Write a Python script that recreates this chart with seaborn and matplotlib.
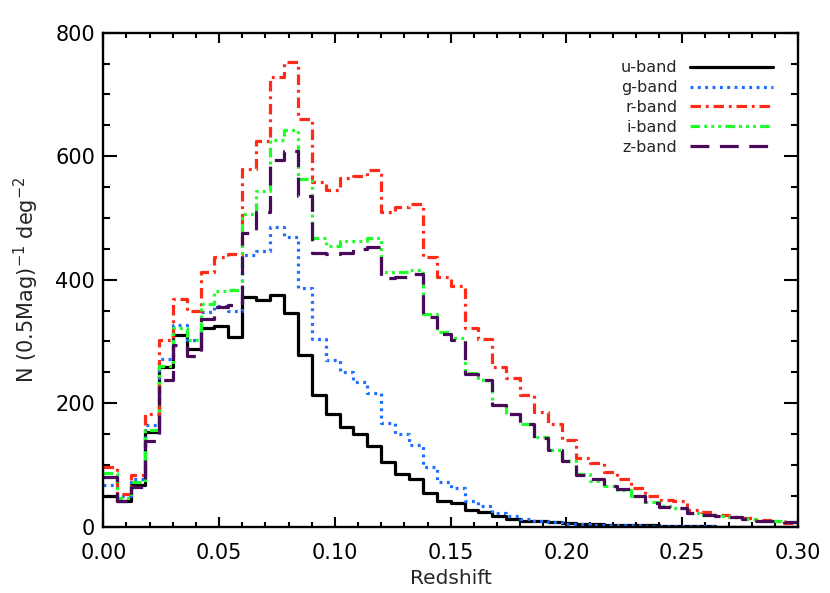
import numpy as np
import pandas as pd
import seaborn as sns
import matplotlib.pyplot as plt

# histogram bins: 50 bins of width 0.006 from z=0 to z=0.3
z_lo = 0.0
z_hi = 0.3
n_bins = 50

bands = ["u-band", "g-band", "r-band", "i-band", "z-band"]

u_band = [50, 42, 68, 154, 258, 310, 287, 321, 325, 308, 372, 367, 375, 346, 278, 213, 182, 162, 150, 130,
          104, 85, 77, 54, 42, 38, 27, 24, 18, 12, 10, 9, 7, 6, 5, 4, 3, 3, 2, 2,
          1, 1, 1, 1, 0, 0, 0, 0, 0, 0]
g_band = [68, 50, 77, 165, 272, 327, 303, 347, 358, 349, 440, 446, 486, 469, 387, 304, 270, 250, 234, 217,
          168, 150, 132, 97, 73, 62, 42, 33, 22, 17, 12, 9, 7, 5, 4, 3, 3, 2, 2, 1,
          1, 1, 1, 1, 0, 0, 0, 0, 0, 0]
r_band = [97, 53, 84, 182, 303, 369, 349, 413, 437, 441, 580, 624, 728, 752, 661, 558, 546, 564, 568, 577,
          509, 517, 523, 436, 404, 390, 321, 304, 258, 240, 214, 185, 166, 140, 111, 103, 88, 77, 62, 50,
          44, 41, 27, 23, 19, 15, 14, 11, 9, 6]
i_band = [87, 46, 72, 157, 261, 322, 303, 361, 382, 384, 507, 543, 627, 642, 563, 467, 455, 462, 463, 467,
          413, 413, 416, 345, 316, 306, 249, 237, 197, 183, 167, 145, 124, 107, 85, 74, 66, 60, 50, 40,
          33, 30, 22, 19, 17, 15, 12, 10, 9, 7]
z_band = [80, 42, 65, 139, 237, 295, 277, 336, 355, 359, 475, 510, 594, 609, 535, 444, 441, 444, 449, 453,
          402, 404, 410, 339, 312, 303, 248, 237, 197, 182, 167, 143, 124, 107, 84, 77, 66, 61, 50, 39,
          32, 30, 22, 19, 18, 15, 12, 10, 9, 7]

colors = {"u-band": "black", "g-band": "#1e6eff", "r-band": "#ff2a18",
          "i-band": "#1eff2a", "z-band": "#4a0a5a"}
dashes = {"u-band": "", "g-band": (0.9, 1.4),
          "r-band": (3.3, 1.5, 0.9, 1.5),
          "i-band": (3.0, 1.3, 0.9, 1.3, 0.9, 1.3, 0.9, 1.3),
          "z-band": (5.9, 3.3)}

edges = np.linspace(z_lo, z_hi, n_bins + 1)
rows = []
for name, vals in zip(bands, [u_band, g_band, r_band, i_band, z_band]):
    # steps-post needs the last value repeated at the right edge
    ys = list(vals) + [vals[-1]]
    for x, y in zip(edges, ys):
        rows.append((x, y, name))
df = pd.DataFrame(rows, columns=["z", "n", "band"])

sns.set_style("ticks")
plt.rcParams["font.family"] = ["DejaVu Sans"]

fig = plt.figure(figsize=(8.3, 5.93), dpi=100)
ax = fig.add_axes([0.1245, 0.1118, 0.837, 0.8331])

sns.lineplot(data=df, x="z", y="n", hue="band", style="band", palette=colors,
             dashes=dashes, hue_order=bands, style_order=bands,
             drawstyle="steps-post", linewidth=2.3, errorbar=None, ax=ax)

ax.set_xlim(z_lo, z_hi)
ax.set_ylim(0, 800)
ax.set_xticks(np.arange(0, 0.301, 0.05))
ax.set_xticks(np.arange(0, 0.301, 0.01), minor=True)
ax.set_yticks(np.arange(0, 801, 200))
ax.set_yticks(np.arange(0, 801, 50), minor=True)
ax.xaxis.set_major_formatter(plt.FormatStrFormatter("%.2f"))

ax.tick_params(which="both", direction="in", top=True, right=True, width=1.5, labelsize=15, colors="black")
ax.tick_params(axis="x", which="major", length=7, pad=12)
ax.tick_params(axis="x", which="minor", length=3.5)
ax.tick_params(axis="y", which="major", length=10, pad=6)
ax.tick_params(axis="y", which="minor", length=5)
for sp in ax.spines.values():
    sp.set_linewidth(1.7)
    sp.set_color("black")

ax.set_xlabel("Redshift", fontsize=14.5)
ax.set_ylabel(r"N (0.5Mag)$^{-1}$ deg$^{-2}$", fontsize=15, labelpad=10)

handles, labels = ax.get_legend_handles_labels()
ax.legend(handles, labels, loc="upper right", frameon=False, markerfirst=False,
          fontsize=11.5, handlelength=5.2, labelspacing=0.3,
          bbox_to_anchor=(0.985, 0.973))

fig.savefig("out.png", dpi=100)
